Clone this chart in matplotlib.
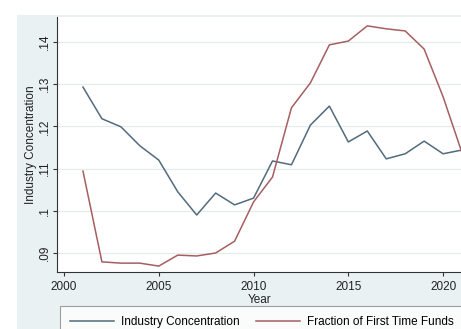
import numpy as np
import matplotlib
matplotlib.use('Agg')
import matplotlib.pyplot as plt
from matplotlib.patches import Rectangle

plt.rcParams['font.family'] = ['Liberation Sans', 'DejaVu Sans']

# data
years = list(range(2001, 2022))
concentration = [.1293, .1218, .1199, .1154, .1120, .1045, .0990, .1042, .1014, .1030,
                 .1118, .1109, .1203, .1248, .1163, .1189, .1123, .1135, .1165, .1135, .1144]
first_time = [.1094, .0879, .0876, .0876, .0869, .0895, .0893, .0900, .0928, .1021,
              .1080, .1244, .1303, .1393, .1402, .1438, .1431, .1426, .1383, .1270, .1137]
yticks = [.09, .10, .11, .12, .13, .14]
ytick_labels = ['.09', '.1', '.11', '.12', '.13', '.14']
xticks = [2000, 2005, 2010, 2015, 2020]

W, H = 461, 329
fig = plt.figure(figsize=(W / 100, H / 100), dpi=100)
fig.patch.set_facecolor('white')
# Stata-like outer background, image cropped at top/left
bg = Rectangle((17 / W, 0), 1, 1 - 15 / H, transform=fig.transFigure,
               facecolor='#eaf1f3', edgecolor='none', zorder=-10)
fig.patches.append(bg)

ax = fig.add_axes([57 / W, 57 / H, 406 / W, 255 / H], zorder=1)
ax.set_facecolor('white')

blue = '#526b7d'
red = '#a65e62'
l1, = ax.plot(years, concentration, color=blue, lw=1.1)
l2, = ax.plot(years, first_time, color=red, lw=1.1)

ax.set_xlim(1999.63, 2021.05)
ax.set_ylim(0.0855, 0.1459)
ax.set_yticks(yticks)
ax.set_yticklabels(ytick_labels, rotation=90, va='center')
ax.set_xticks(xticks)
ax.grid(axis='y', color='#e6ecee', lw=0.9)
ax.set_axisbelow(True)

for s in ['top', 'right']:
    ax.spines[s].set_visible(False)
ax.spines['left'].set_color('#333333')
ax.spines['bottom'].set_color('#333333')
ax.spines['left'].set_linewidth(0.8)
ax.spines['bottom'].set_linewidth(0.8)
ax.tick_params(axis='both', labelsize=8.5, length=3, width=0.8, color='#333333', labelcolor='#222222')
ax.tick_params(axis='y', pad=1.5)

ax.set_xlabel('Year', fontsize=8.5, labelpad=1, color='#222222')
ax.set_ylabel('Industry Concentration', fontsize=8.5, labelpad=1, color='#222222')

leg = fig.legend([l1, l2], ['Industry Concentration', 'Fraction of First Time Funds'],
                 loc='upper left', bbox_to_anchor=(60 / W, 1 - 306 / H), ncol=2,
                 fontsize=8.5, frameon=True, fancybox=False, handlelength=3.7,
                 handletextpad=0.6, columnspacing=1.4, borderpad=0.85, borderaxespad=0)
leg.get_frame().set_edgecolor('#888888')
leg.get_frame().set_linewidth(0.8)
leg.get_frame().set_facecolor('white')

fig.savefig('out.png', dpi=100, facecolor=fig.get_facecolor())
